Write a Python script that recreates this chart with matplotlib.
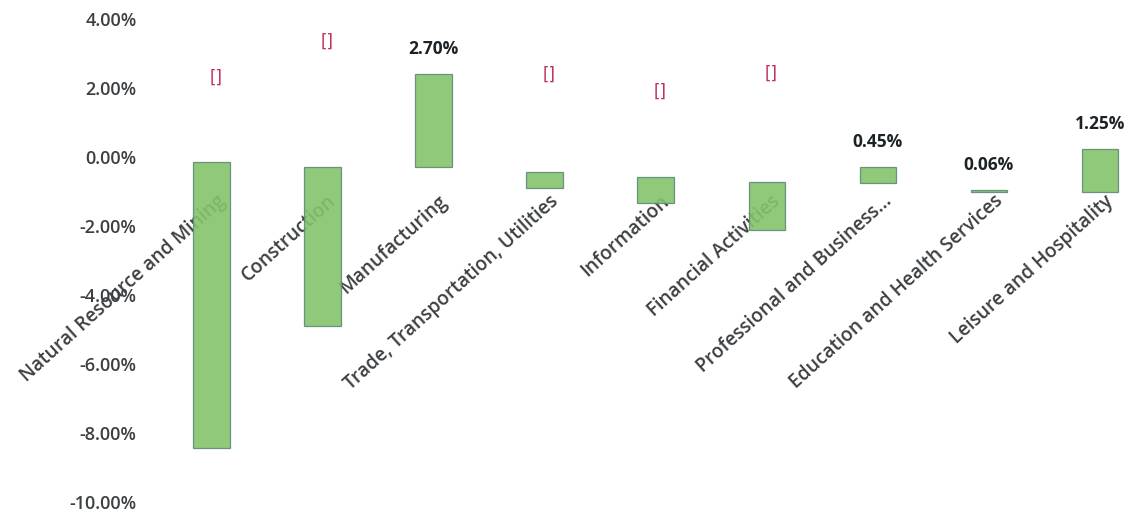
import numpy as np
import matplotlib
matplotlib.use("Agg")
import matplotlib.pyplot as plt

# Sector employment change, floating bars (percent)
categories = [
    "Natural Resource and Mining",
    "Construction",
    "Manufacturing",
    "Trade, Transportation, Utilities",
    "Information",
    "Financial Activities",
    "Professional and Business...",
    "Education and Health Services",
    "Leisure and Hospitality",
]
bar_bottom = [-8.43, -4.90, -0.29, -0.90, -1.33, -2.12, -0.75, -1.02, -1.01]
bar_height = [8.29, 4.61, 2.70, 0.47, 0.75, 1.40, 0.45, 0.06, 1.25]
label_shown = [False, False, True, False, False, False, True, True, True]
# labels whose glyph is missing are drawn as boxes at these levels
box_level = [2.29, 3.33, np.nan, 2.38, 1.88, 2.41, np.nan, np.nan, np.nan]
y_ticks = [-10, -8, -6, -4, -2, 0, 2, 4]

plt.rcParams["font.family"] = ["Open Sans", "DejaVu Sans"]

fig = plt.figure(figsize=(11.4, 5.16), dpi=100)
ax = fig.add_axes([156 / 1140, 0, (1140 - 156) / 1140, 1])

x = np.arange(len(categories))
ax.bar(x, bar_height, bottom=bar_bottom, width=0.33, color="#84c46c",
       edgecolor="#5f8a78", linewidth=0.9, alpha=0.9, zorder=3)

for i, (b, h) in enumerate(zip(bar_bottom, bar_height)):
    if label_shown[i]:
        ax.annotate(f"{h:.2f}%", (i, b + h), xytext=(0, 18),
                    textcoords="offset points", ha="center", va="center",
                    fontsize=12.5, fontweight="bold", color="#1c2326")
    if not np.isnan(box_level[i]):
        ax.text(i + 0.04, box_level[i], "[]", ha="center", va="center",
                fontsize=12, color="#c2335c", family="DejaVu Sans")

# category names sit just below the zero line, behind the bars
for i, name in enumerate(categories):
    ax.annotate(name, (i, 0), xytext=(8, -30), textcoords="offset points",
                ha="right", va="center", rotation=42, rotation_mode="anchor",
                fontsize=13.8, fontweight="semibold", color="#3d4043", zorder=1)

ax.set_xlim(-0.5, 8.36)
ax.set_ylim(-10.4, 4.55)
ax.set_xticks([])
ax.set_yticks(y_ticks)
ax.set_yticklabels([f"{v:.2f}%" for v in y_ticks])
ax.tick_params(axis="y", length=0, pad=14, labelsize=13, labelcolor="#3d4043")
for lbl in ax.get_yticklabels():
    lbl.set_fontweight("semibold")
for s in ax.spines.values():
    s.set_visible(False)

fig.savefig("out.png", dpi=100)
